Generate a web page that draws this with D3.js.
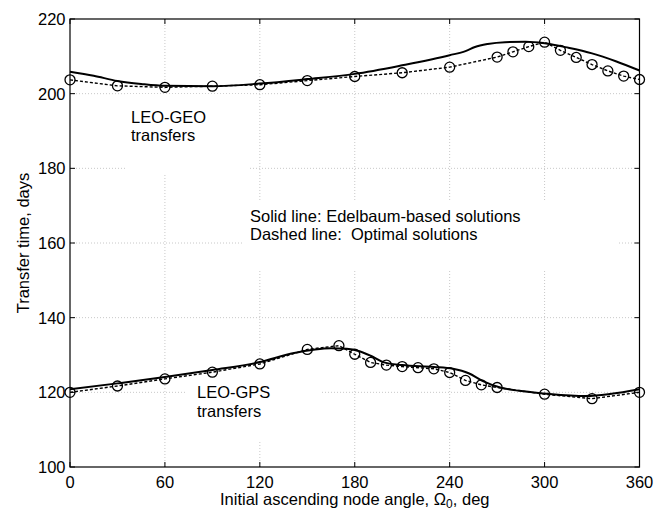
<!DOCTYPE html>
<html>
<head>
<meta charset="utf-8">
<script src="https://cdn.jsdelivr.net/npm/d3@7"></script>
<style>
  body { margin: 0; background: #fff; }
  text { font-family: "Liberation Sans", Arial, Helvetica, sans-serif; fill: #000; }
</style>
</head>
<body>
<svg id="chart" width="666" height="511"></svg>
<script>
// LEO-GEO, Edelbaum-based (solid)
var geoEdelAngle = [0, 15, 30, 45, 60, 90, 120, 150, 180, 210, 240, 250, 256, 264, 275, 288, 300, 315, 330, 345, 360];
var geoEdelDays  = [205.9, 204.8, 203.4, 202.6, 202.1, 202.0, 202.7, 203.9, 205.3, 207.6, 210.3, 211.4, 212.5, 213.3, 213.8, 213.9, 213.5, 212.3, 210.8, 208.7, 206.2];
// LEO-GEO, optimal (dashed + circles)
var geoOptAngle = [0, 30, 60, 90, 120, 150, 180, 210, 240, 270, 280, 290, 300, 310, 320, 330, 340, 350, 360];
var geoOptDays  = [203.7, 202.1, 201.7, 202.0, 202.4, 203.5, 204.6, 205.6, 207.1, 209.8, 211.2, 212.6, 213.8, 211.6, 209.7, 207.8, 206.1, 204.7, 203.8];
// LEO-GPS, Edelbaum-based (solid)
var gpsEdelAngle = [0, 30, 60, 90, 120, 140, 155, 165, 175, 183, 190, 198, 210, 230, 242, 252, 261, 272, 284, 300, 326, 360];
var gpsEdelDays  = [120.8, 122.4, 124.1, 126.0, 128.1, 130.4, 131.5, 131.8, 131.7, 131.0, 129.8, 128.1, 127.3, 126.8, 126.3, 125.1, 123.0, 121.3, 120.4, 119.7, 119.0, 120.8];
// LEO-GPS, optimal (dashed + circles)
var gpsOptAngle = [0, 30, 60, 90, 120, 150, 170, 180, 190, 200, 210, 220, 230, 240, 250, 260, 270, 300, 330, 360];
var gpsOptDays  = [120.0, 121.7, 123.6, 125.4, 127.6, 131.5, 132.5, 130.2, 128.0, 127.3, 126.9, 126.6, 126.3, 125.3, 123.2, 122.0, 121.3, 119.5, 118.3, 120.0];

var xTicks = [0, 60, 120, 180, 240, 300, 360];
var yTicks = [100, 120, 140, 160, 180, 200, 220];

(function(){
  var svg = d3.select("#chart");
  var pl = 70, pr = 639.5, pt = 19, pb = 467;
  var fs = "16.5px";

  var x = d3.scaleLinear().domain([0, 360]).range([pl, pr]);
  var y = d3.scaleLinear().domain([100, 220]).range([pb, pt]);

  // grid
  var grid = svg.append("g")
    .attr("stroke", "#c8c8c8")
    .attr("stroke-width", 1)
    .attr("stroke-dasharray", "1,2");
  grid.selectAll("line.v")
    .data(xTicks.slice(1, -1))
    .enter().append("line")
    .attr("x1", function(d){ return x(d); })
    .attr("x2", function(d){ return x(d); })
    .attr("y1", pt).attr("y2", pb);
  grid.selectAll("line.h")
    .data(yTicks.slice(1, -1))
    .enter().append("line")
    .attr("x1", pl).attr("x2", pr)
    .attr("y1", function(d){ return y(d); })
    .attr("y2", function(d){ return y(d); });

  // white boxes behind the annotations (they hide the grid)
  var boxes = [[125, 94, 125, 79], [242, 200, 375, 70], [185, 370, 137, 72]];
  svg.selectAll("rect.box")
    .data(boxes)
    .enter().append("rect")
    .attr("x", function(d){ return d[0]; })
    .attr("y", function(d){ return d[1]; })
    .attr("width", function(d){ return d[2]; })
    .attr("height", function(d){ return d[3]; })
    .attr("fill", "#fff");

  // frame + inward ticks
  svg.append("rect")
    .attr("x", pl).attr("y", pt)
    .attr("width", pr - pl).attr("height", pb - pt)
    .attr("fill", "none").attr("stroke", "#000").attr("stroke-width", 1.2);

  var tickLen = 5;
  var ticks = svg.append("g").attr("stroke", "#000").attr("stroke-width", 1);
  xTicks.forEach(function(t){
    ticks.append("line").attr("x1", x(t)).attr("x2", x(t)).attr("y1", pb).attr("y2", pb - tickLen);
    ticks.append("line").attr("x1", x(t)).attr("x2", x(t)).attr("y1", pt).attr("y2", pt + tickLen);
  });
  yTicks.forEach(function(t){
    ticks.append("line").attr("x1", pl).attr("x2", pl + tickLen).attr("y1", y(t)).attr("y2", y(t));
    ticks.append("line").attr("x1", pr).attr("x2", pr - tickLen).attr("y1", y(t)).attr("y2", y(t));
  });

  // tick labels
  svg.selectAll("text.xt")
    .data(xTicks)
    .enter().append("text")
    .attr("x", function(d){ return x(d); })
    .attr("y", 488)
    .attr("text-anchor", "middle")
    .style("font-size", fs)
    .text(function(d){ return d; });
  svg.selectAll("text.yt")
    .data(yTicks)
    .enter().append("text")
    .attr("x", 65.5)
    .attr("y", function(d){ return y(d); })
    .attr("dy", "0.36em")
    .attr("text-anchor", "end")
    .style("font-size", fs)
    .text(function(d){ return d; });

  // axis titles
  var xl = svg.append("text")
    .attr("x", (pl + pr) / 2)
    .attr("y", 505)
    .attr("text-anchor", "middle")
    .style("font-size", fs);
  xl.append("tspan").text("Initial ascending node angle, \u03A9");
  xl.append("tspan").attr("dy", 3).style("font-size", "12px").text("0");
  xl.append("tspan").attr("dy", -3).text(", deg");

  svg.append("text")
    .attr("transform", "translate(29," + ((pt + pb) / 2) + ") rotate(-90)")
    .attr("text-anchor", "middle")
    .style("font-size", fs)
    .text("Transfer time, days");

  // curves
  function series(angles, days){
    return angles.map(function(a, i){ return [a, days[i]]; });
  }
  var smooth = d3.line()
    .x(function(d){ return x(d[0]); })
    .y(function(d){ return y(d[1]); })
    .curve(d3.curveMonotoneX);
  var straight = d3.line()
    .x(function(d){ return x(d[0]); })
    .y(function(d){ return y(d[1]); });

  [series(geoEdelAngle, geoEdelDays), series(gpsEdelAngle, gpsEdelDays)].forEach(function(s){
    svg.append("path")
      .attr("d", smooth(s))
      .attr("fill", "none")
      .attr("stroke", "#000")
      .attr("stroke-width", 2);
  });

  [series(geoOptAngle, geoOptDays), series(gpsOptAngle, gpsOptDays)].forEach(function(s){
    svg.append("path")
      .attr("d", straight(s))
      .attr("fill", "none")
      .attr("stroke", "#000")
      .attr("stroke-width", 1.4)
      .attr("stroke-dasharray", "3,2");
    svg.append("g").selectAll("circle")
      .data(s)
      .enter().append("circle")
      .attr("cx", function(d){ return x(d[0]); })
      .attr("cy", function(d){ return y(d[1]); })
      .attr("r", 5)
      .attr("fill", "none")
      .attr("stroke", "#000")
      .attr("stroke-width", 1.3);
  });

  // annotations
  function label(lines, px, py, gap){
    var t = svg.append("text").style("font-size", fs);
    lines.forEach(function(s, i){
      t.append("tspan").attr("x", px).attr("y", py + i * gap).text(s);
    });
  }
  label(["LEO-GEO", "transfers"], 131, 123, 17.5);
  label(["Solid line: Edelbaum-based solutions", "Dashed line:\u00A0 Optimal solutions"], 250, 222, 17.5);
  label(["LEO-GPS", "transfers"], 197, 398, 19);
})();
</script>
</body>
</html>
